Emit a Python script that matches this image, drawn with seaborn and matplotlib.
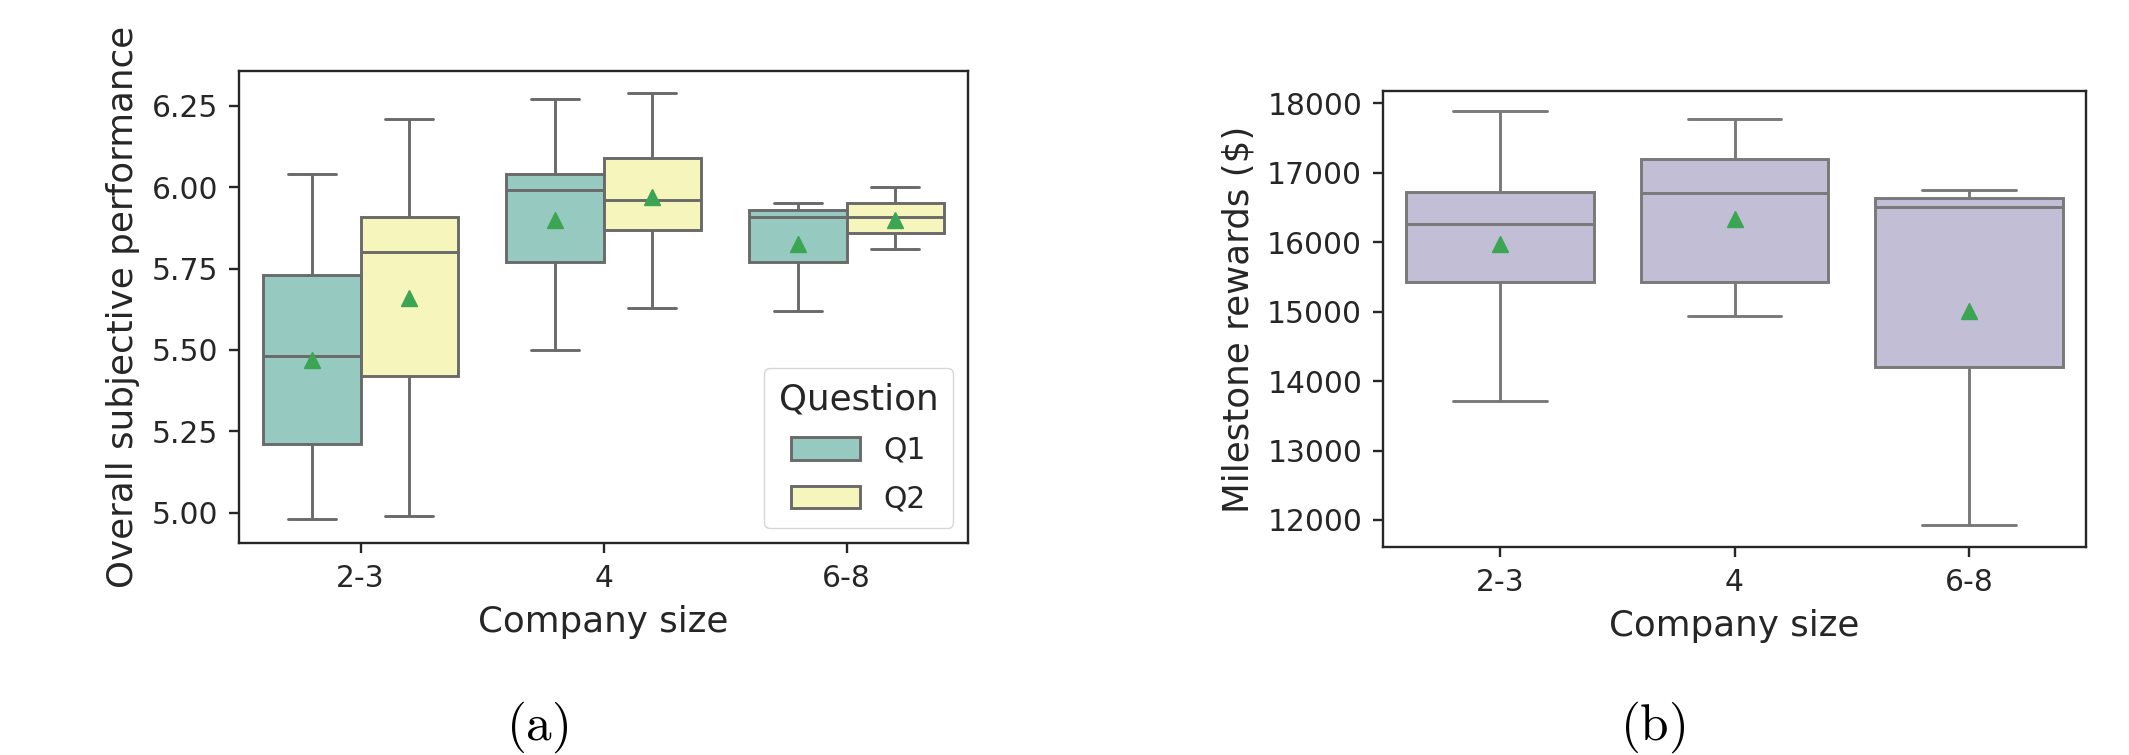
import matplotlib
matplotlib.use("Agg")
import matplotlib.pyplot as plt
import seaborn as sns
import pandas as pd

# ---------------- data ----------------
sizes = ["2-3", "4", "6-8"]
questions = ["Q1", "Q2"]

# (a) Overall subjective performance, per company size and question
perf_q1_23 = [4.98, 5.05, 5.21, 5.35, 5.48, 5.55, 5.73, 5.84, 6.04]
perf_q2_23 = [4.99, 5.20, 5.42, 5.60, 5.80, 5.85, 5.91, 5.96, 6.21]
perf_q1_4 = [5.50, 5.60, 5.77, 5.85, 5.99, 6.00, 6.04, 6.08, 6.27]
perf_q2_4 = [5.63, 5.75, 5.87, 5.92, 5.96, 6.02, 6.09, 6.20, 6.29]
perf_q1_68 = [5.62, 5.63, 5.77, 5.78, 5.91, 5.91, 5.93, 5.93, 5.95]
perf_q2_68 = [5.81, 5.82, 5.86, 5.88, 5.91, 5.92, 5.95, 5.95, 6.00]

# (b) Milestone rewards ($), per company size
reward_23 = [13720, 14300, 15420, 15800, 16260, 16400, 16720, 17310, 17890]
reward_4 = [14930, 15100, 15420, 15900, 16710, 16800, 17200, 17220, 17780]
reward_68 = [11930, 11950, 12200, 14210, 14220, 14390, 16510, 16510,
             16540, 16630, 16640, 16650, 16750]

perf_groups = {
    ("2-3", "Q1"): perf_q1_23, ("2-3", "Q2"): perf_q2_23,
    ("4", "Q1"): perf_q1_4, ("4", "Q2"): perf_q2_4,
    ("6-8", "Q1"): perf_q1_68, ("6-8", "Q2"): perf_q2_68,
}
reward_groups = {"2-3": reward_23, "4": reward_4, "6-8": reward_68}

rows_a = [(s, q, v) for (s, q), vals in perf_groups.items() for v in vals]
df_a = pd.DataFrame(rows_a, columns=["Company size", "Question",
                                     "Overall subjective performance"])
rows_b = [(s, v) for s, vals in reward_groups.items() for v in vals]
df_b = pd.DataFrame(rows_b, columns=["Company size", "Milestone rewards ($)"])

# ---------------- style ----------------
sns.set_style("ticks")
plt.rcParams["font.family"] = ["DejaVu Sans"]
plt.rcParams["mathtext.fontset"] = "cm"
TXT = "#262626"
plt.rcParams.update({
    "text.color": TXT, "axes.labelcolor": TXT,
    "xtick.color": TXT, "ytick.color": TXT,
    "axes.edgecolor": TXT, "axes.linewidth": 1.7,
    "xtick.major.size": 7.5, "ytick.major.size": 7.5,
    "xtick.major.width": 1.7, "ytick.major.width": 1.7,
    "xtick.major.pad": 7.5, "ytick.major.pad": 7.5,
    "xtick.labelsize": 21.4, "ytick.labelsize": 21.4,
    "axes.labelsize": 25.7, "axes.labelpad": 8.6,
})

set3 = sns.color_palette("Set3")
mean_props = dict(marker="^", markerfacecolor="#3ca553",
                  markeredgecolor="#3ca553", markersize=11.5)

W, H = 2129, 755
fig = plt.figure(figsize=(W / 100, H / 100), dpi=100)

def px_axes(x0, y0, x1, y1):
    return fig.add_axes([x0 / W, 1 - y1 / H, (x1 - x0) / W, (y1 - y0) / H])

ax1 = px_axes(239, 71, 968, 543)
ax2 = px_axes(1383, 91, 2086, 547)

sns.boxplot(data=df_a, x="Company size", y="Overall subjective performance",
            hue="Question", order=sizes, hue_order=questions,
            palette=set3[:2], showmeans=True, meanprops=mean_props,
            linewidth=2.1, ax=ax1)
ax1.set_ylim(4.907, 6.357)
sns.move_legend(ax1, "lower right", title="Question", fontsize=21.4,
                title_fontsize=25.7, borderaxespad=0.5, handlelength=2.3,
                handleheight=0.8, labelspacing=0.65, borderpad=0.5,
                frameon=True)

sns.boxplot(data=df_b, x="Company size", y="Milestone rewards ($)",
            order=sizes, color=set3[2], showmeans=True, meanprops=mean_props,
            linewidth=2.1, ax=ax2)
ax2.set_ylim(11611, 18177)

for ax in (ax1, ax2):
    for sp in ax.spines.values():
        sp.set_visible(True)

fig.text(537 / W, 1 - 727 / H, r"$\mathrm{(a)}$", ha="center", va="center",
         fontsize=37, color="black")
fig.text(1653 / W, 1 - 727 / H, r"$\mathrm{(b)}$", ha="center", va="center",
         fontsize=37, color="black")

fig.savefig("out.png", dpi=100)
